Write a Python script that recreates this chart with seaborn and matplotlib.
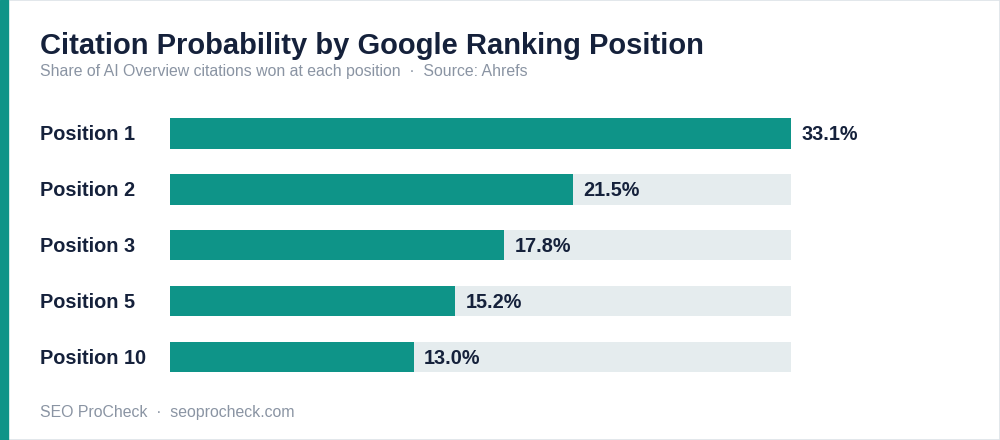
import matplotlib
matplotlib.use("Agg")
import matplotlib.pyplot as plt
import matplotlib.transforms as mtransforms
import seaborn as sns
import pandas as pd
from matplotlib.patches import Rectangle

# data
positions = ["Position 1", "Position 2", "Position 3", "Position 5", "Position 10"]
shares = [33.1, 21.5, 17.8, 15.2, 13.0]
track_max = max(shares)

title = "Citation Probability by Google Ranking Position"
subtitle = "Share of AI Overview citations won at each position  ·  Source: Ahrefs"
footer = "SEO ProCheck  ·  seoprocheck.com"

teal = "#0e9488"
track = "#e5ecee"
navy = "#15213b"
grey = "#8a94a3"

sns.set_theme(style="white")
plt.rcParams["font.family"] = ["Liberation Sans", "DejaVu Sans"]

df = pd.DataFrame({"pos": positions, "share": shares, "track": [track_max] * len(shares)})

fig = plt.figure(figsize=(10, 4.4), dpi=100)
ax = fig.add_axes([0.17, 0.125, 0.621, 0.636])

# grey track behind, teal value bar on top
sns.barplot(data=df, x="track", y="pos", color=track, width=0.55, saturation=1,
            linewidth=0, ax=ax)
sns.barplot(data=df, x="share", y="pos", color=teal, width=0.55, saturation=1,
            linewidth=0, ax=ax)

ax.set_xlim(0, track_max)
ax.set_ylim(len(positions) - 0.5, -0.5)
ax.set_xlabel("")
ax.set_ylabel("")
ax.set_xticks([])
ax.set_yticks([])
sns.despine(ax=ax, left=True, bottom=True)

lab_tr = mtransforms.blended_transform_factory(fig.transFigure, ax.transData)
for i, (p, v) in enumerate(zip(positions, shares)):
    ax.text(v + 0.55, i + 0.02, f"{v:.1f}%", va="center", ha="left",
            fontsize=14.3, fontweight="bold", color=navy)
    ax.text(0.04, i + 0.02, p, transform=lab_tr, va="center", ha="left",
            fontsize=14.3, fontweight="bold", color=navy, clip_on=False)

fig.text(0.04, 1 - 54 / 440, title, fontsize=21, fontweight="bold", color=navy, va="baseline")
fig.text(0.04, 1 - 76 / 440, subtitle, fontsize=11.4, color=grey, va="baseline")
fig.text(0.04, 1 - 417 / 440, footer, fontsize=11.4, color=grey, va="baseline")

# left accent stripe and frame
fig.patches.append(Rectangle((0, 0), 8 / 1000, 1, transform=fig.transFigure,
                             color=teal, zorder=5))
fig.patches.append(Rectangle((0.0005, 0.001), 0.999, 0.998, transform=fig.transFigure,
                             fill=False, edgecolor="#dde3e8", linewidth=1.2, zorder=4))

fig.savefig("out.png", dpi=100, facecolor="white")
